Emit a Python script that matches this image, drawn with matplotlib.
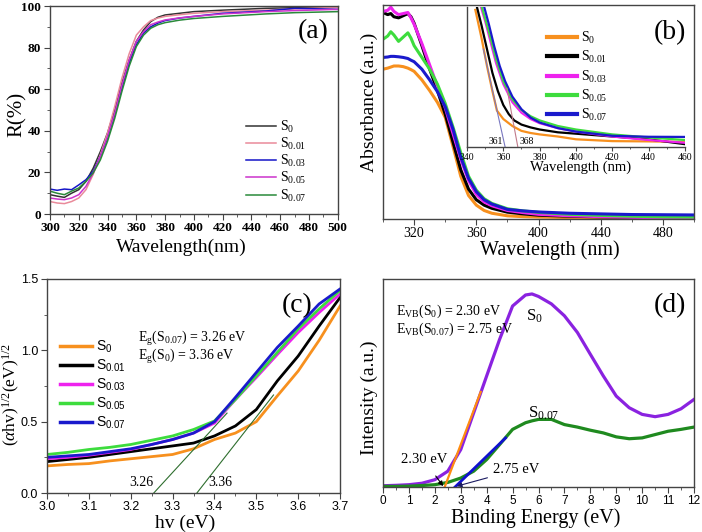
import matplotlib
matplotlib.use("Agg")
import matplotlib.pyplot as plt
from matplotlib.ticker import MultipleLocator, NullLocator, FormatStrFormatter

plt.rcParams.update({
    "font.family": "Liberation Serif",
    "mathtext.fontset": "custom",
    "mathtext.rm": "Liberation Serif",
    "mathtext.it": "Liberation Serif:italic",
    "mathtext.bf": "Liberation Serif:bold",
    "mathtext.sf": "Liberation Sans",
    "axes.linewidth": 1.0,
    "axes.edgecolor": "#444444",
    "xtick.direction": "out",
    "ytick.direction": "out",
    "xtick.major.size": 4,
    "ytick.major.size": 4,
    "xtick.minor.size": 2,
    "ytick.minor.size": 2,
    "xtick.major.pad": 2,
    "ytick.major.pad": 2.5,
    "xtick.color": "#444444",
    "ytick.color": "#444444",
    "xtick.labelcolor": "black",
    "ytick.labelcolor": "black",
})

labels = ["0", "0.01", "0.03", "0.05", "0.07"]

# ---- (a) diffuse reflectance
wl_a = [300, 305, 310, 315, 320, 325, 330, 335, 340, 345, 350, 355, 360, 365,
        370, 375, 380, 390, 400, 420, 450, 470, 500]
R_s0 = [9.3, 8.6, 8.0, 10.0, 11.7, 15.7, 22.0, 30.0, 39.0, 50.0, 63.0, 74.0,
        83.0, 88.5, 92.5, 94.6, 95.7, 96.5, 97.3, 98.0, 98.9, 99.2, 99.4]
R_s001 = [6.0, 5.3, 5.0, 6.0, 7.7, 11.7, 19.0, 28.5, 39.0, 51.7, 65.3, 77.0,
          86.0, 90.0, 93.0, 94.2, 95.0, 95.8, 96.5, 97.3, 98.0, 98.6, 99.4]
R_s003 = [12.0, 11.4, 12.0, 11.7, 14.0, 16.5, 20.5, 27.7, 36.5, 47.7, 60.5,
          72.5, 81.3, 87.0, 90.0, 91.8, 93.0, 94.2, 95.0, 96.5, 97.6, 98.9, 98.4]
R_s005 = [7.7, 7.2, 6.9, 7.7, 9.3, 13.3, 19.7, 27.7, 37.3, 48.5, 62.0, 74.0,
          83.0, 87.7, 91.0, 92.3, 93.3, 94.3, 95.0, 96.2, 97.3, 97.8, 98.4]
R_s007 = [11.0, 10.0, 9.3, 11.0, 12.5, 15.7, 19.7, 26.0, 35.0, 46.0, 59.0,
          71.0, 80.5, 86.0, 89.3, 91.0, 92.0, 93.2, 94.0, 95.0, 96.2, 96.8, 97.3]
cols_a = ["#333333", "#e98a9a", "#1515c8", "#cc33cc", "#2a8a3a"]

# ---- (b) absorbance, main
wl_b = [300, 303, 305, 307, 310, 313, 316, 318, 320, 325, 330, 335, 340, 345,
        350, 355, 360, 365, 370, 380, 390, 400, 420, 440, 460, 480, 500]
A_s0 = [0.70, 0.705, 0.71, 0.715, 0.715, 0.712, 0.705, 0.698, 0.69, 0.65,
        0.60, 0.545, 0.475, 0.34, 0.20, 0.11, 0.065, 0.04, 0.027, 0.015,
        0.011, 0.009, 0.007, 0.006, 0.006, 0.005, 0.005]
A_s001 = [0.965, 0.955, 0.96, 0.945, 0.94, 0.95, 0.96, 0.945, 0.915, 0.81,
          0.70, 0.60, 0.49, 0.36, 0.23, 0.14, 0.09, 0.065, 0.05, 0.032,
          0.024, 0.018, 0.013, 0.01, 0.008, 0.006, 0.005]
A_s003 = [0.97, 0.975, 0.99, 0.97, 0.955, 0.96, 0.965, 0.94, 0.91, 0.82,
          0.72, 0.62, 0.52, 0.40, 0.28, 0.18, 0.115, 0.08, 0.062, 0.04,
          0.03, 0.022, 0.015, 0.011, 0.008, 0.006, 0.004]
A_s005 = [0.84, 0.855, 0.875, 0.86, 0.83, 0.85, 0.87, 0.845, 0.81, 0.755,
          0.70, 0.63, 0.54, 0.43, 0.31, 0.20, 0.135, 0.095, 0.073, 0.048,
          0.038, 0.031, 0.022, 0.017, 0.013, 0.01, 0.009]
A_s007 = [0.755, 0.757, 0.76, 0.76, 0.758, 0.755, 0.75, 0.742, 0.735, 0.70,
          0.65, 0.595, 0.525, 0.42, 0.29, 0.19, 0.128, 0.09, 0.07, 0.045,
          0.038, 0.033, 0.027, 0.024, 0.021, 0.02, 0.019]
cols_b = ["#f7901e", "#000000", "#ee22ee", "#3ddc3d", "#1a1acc"]

# ---- (b) inset
wl_s0_i = [344.6, 348, 351, 354, 356.5, 360, 365, 370, 375, 380, 390, 400, 420, 440, 460]
I_s0 = [0.98, 0.78, 0.58, 0.40, 0.26, 0.20, 0.15, 0.115, 0.10, 0.09, 0.075,
        0.055, 0.042, 0.04, 0.036]
wl_s001_i = [345.5, 348, 351, 354, 357, 360, 363, 366, 370, 375, 380, 390, 400, 420, 440, 460]
I_s001 = [1.0, 0.87, 0.70, 0.53, 0.40, 0.30, 0.235, 0.19, 0.16, 0.14, 0.125,
          0.105, 0.095, 0.075, 0.055, 0.02]
wl_s003_i = [347.7, 350, 353, 356, 360, 365, 370, 375, 380, 390, 400, 420, 440, 460]
I_s003 = [1.0, 0.90, 0.75, 0.60, 0.45, 0.32, 0.245, 0.20, 0.17, 0.135, 0.11,
          0.075, 0.05, 0.03]
wl_s005_i = [348.2, 350, 353, 356, 360, 365, 370, 375, 380, 390, 400, 420, 440, 460]
I_s005 = [1.0, 0.92, 0.78, 0.63, 0.47, 0.34, 0.265, 0.22, 0.19, 0.15, 0.125,
          0.09, 0.068, 0.05]
wl_s007_i = [349.5, 352, 355, 358, 361, 365, 370, 375, 380, 390, 400, 420, 440, 460]
I_s007 = [1.0, 0.88, 0.72, 0.58, 0.47, 0.36, 0.27, 0.21, 0.175, 0.135, 0.11,
          0.08, 0.073, 0.072]
tan361_x, tan361_y = [349, 361], [0.70, 0.0]
tan368_x, tan368_y = [362, 368], [0.42, 0.0]

# ---- (c) Tauc plot
hv = [3.0, 3.05, 3.1, 3.15, 3.2, 3.25, 3.3, 3.35, 3.4, 3.45, 3.5, 3.55, 3.6, 3.65, 3.7]
T_s0 = [0.19, 0.20, 0.206, 0.225, 0.24, 0.255, 0.27, 0.31, 0.375, 0.42, 0.50,
        0.68, 0.855, 1.07, 1.31]
T_s001 = [0.22, 0.235, 0.25, 0.27, 0.29, 0.31, 0.33, 0.35, 0.40, 0.47, 0.585,
          0.785, 0.96, 1.17, 1.37]
T_s003 = [0.24, 0.25, 0.265, 0.285, 0.305, 0.34, 0.375, 0.42, 0.49, 0.655,
          0.81, 0.97, 1.125, 1.265, 1.395]
T_s005 = [0.27, 0.285, 0.305, 0.32, 0.34, 0.37, 0.40, 0.445, 0.505, 0.655,
          0.82, 0.985, 1.15, 1.29, 1.42]
T_s007 = [0.25, 0.26, 0.27, 0.29, 0.31, 0.34, 0.375, 0.42, 0.50, 0.67, 0.845,
          1.02, 1.17, 1.325, 1.43]
tan326_x, tan326_y = [3.255, 3.43], [0.0, 0.56]
tan336_x, tan336_y = [3.358, 3.541], [0.0, 0.687]

# ---- (d) VB XPS
be = [0, 0.5, 1, 1.5, 2, 2.5, 3, 3.5, 4, 4.5, 5, 5.5, 5.75, 6, 6.5, 7, 7.5,
      8, 8.5, 9, 9.5, 10, 10.5, 11, 11.5, 12]
V_s0 = [0.006, 0.008, 0.011, 0.018, 0.035, 0.076, 0.18, 0.357, 0.534, 0.71,
        0.87, 0.923, 0.928, 0.916, 0.88, 0.823, 0.743, 0.638, 0.534, 0.437,
        0.381, 0.349, 0.338, 0.349, 0.376, 0.421]
V_s007 = [0.003, 0.003, 0.004, 0.007, 0.011, 0.022, 0.043, 0.076, 0.132,
          0.204, 0.277, 0.309, 0.318, 0.325, 0.325, 0.30, 0.288, 0.273, 0.26,
          0.241, 0.232, 0.236, 0.252, 0.268, 0.277, 0.288]
tan230_x, tan230_y = [2.38, 3.77], [0.0, 0.457]
tan275_x, tan275_y = [2.78, 4.73], [0.0, 0.236]

fig = plt.figure(figsize=(7.02, 5.32), dpi=100)
ax_a = fig.add_axes([0.0712, 0.5977, 0.410, 0.391])
ax_b = fig.add_axes([0.5456, 0.5883, 0.443, 0.4023])
ax_i = fig.add_axes([0.6652, 0.7237, 0.3105, 0.263])
ax_c = fig.add_axes([0.067, 0.0733, 0.4174, 0.4023])
ax_d = fig.add_axes([0.5456, 0.0846, 0.443, 0.391])

# (a)
for ys, c, lab in zip([R_s0, R_s001, R_s003, R_s005, R_s007], cols_a, labels):
    ax_a.plot(wl_a, ys, color=c, lw=1.1, label="S$_{%s}$" % lab)
ax_a.set_xlim(300, 500)
ax_a.set_ylim(0, 100)
ax_a.xaxis.set_major_locator(MultipleLocator(20))
ax_a.xaxis.set_minor_locator(MultipleLocator(10))
ax_a.yaxis.set_major_locator(MultipleLocator(20))
ax_a.yaxis.set_minor_locator(MultipleLocator(10))
for t in ax_a.get_xticklabels() + ax_a.get_yticklabels():
    t.set_fontweight("bold")
    t.set_fontsize(9.5)
ax_a.set_xlabel("Wavelength(nm)", fontsize=14)
ax_a.set_ylabel("R(%)", fontsize=15)
ax_a.xaxis.set_label_coords(0.458, -0.12)
ax_a.yaxis.set_label_coords(-0.082, 0.48)
ax_a.legend(loc="lower left", bbox_to_anchor=(0.68, 0.05), frameon=False,
            fontsize=10, handlelength=2.2, handletextpad=0.3, labelspacing=0.08,
            borderpad=0, borderaxespad=0)

# (b) main
for ys, c, lab in zip([A_s0, A_s001, A_s003, A_s005, A_s007], cols_b, labels):
    ax_b.plot(wl_b, ys, color=c, lw=2.2)
ax_b.set_xlim(300, 500)
ax_b.set_ylim(0, 1.0)
ax_b.xaxis.set_major_locator(MultipleLocator(40))
ax_b.xaxis.set_minor_locator(MultipleLocator(20))
ax_b.yaxis.set_major_locator(NullLocator())
ax_b.tick_params(axis="x", which="major", labelsize=10, pad=1.5)
ax_b.set_xlabel("Wavelength (nm)", fontsize=14.5)
ax_b.set_ylabel("Absorbance (a.u.)", fontsize=14)
ax_b.xaxis.set_label_coords(0.535, -0.1)
ax_b.yaxis.set_label_coords(-0.015, 0.544)

# (b) inset
ax_i.set_facecolor("none")
inset = [(wl_s0_i, I_s0), (wl_s001_i, I_s001), (wl_s003_i, I_s003),
         (wl_s005_i, I_s005), (wl_s007_i, I_s007)]
for (xs, ys), c, lab in zip(inset, cols_b, labels):
    ax_i.plot(xs, ys, color=c, lw=1.6, label="S$_{%s}$" % lab)
ax_i.plot(tan361_x, tan361_y, color="#7a78c0", lw=0.8)
ax_i.plot(tan368_x, tan368_y, color="#c07a8a", lw=0.8)
ax_i.text(360, 0.01, "361", fontsize=7, ha="right", va="bottom")
ax_i.text(369, 0.01, "368", fontsize=7, ha="left", va="bottom")
ax_i.set_xlim(340, 460)
ax_i.set_ylim(0, 1.0)
ax_i.spines["top"].set_visible(False)
ax_i.spines["right"].set_visible(False)
ax_i.xaxis.set_major_locator(MultipleLocator(20))
ax_i.xaxis.set_minor_locator(MultipleLocator(10))
ax_i.yaxis.set_major_locator(NullLocator())
ax_i.tick_params(axis="x", which="major", labelsize=7, length=3, pad=1)
ax_i.tick_params(axis="x", which="minor", length=1.5)
ax_i.set_xlabel("Wavelength (nm)", fontsize=10.5)
ax_i.xaxis.set_label_coords(0.523, -0.1)
leg = ax_i.legend(loc="upper left", bbox_to_anchor=(0.365, 0.835), frameon=False,
                  fontsize=10, handlelength=2.2, handletextpad=0.3,
                  labelspacing=0.22, borderpad=0, borderaxespad=0)
for h in leg.get_lines():
    h.set_linewidth(3)

# (c)
for ys, c, lab in zip([T_s0, T_s001, T_s003, T_s005, T_s007], cols_b, labels):
    ax_c.plot(hv, ys, color=c, lw=2.0, label=r"S$_{\mathsf{%s}}$" % lab)
ax_c.plot(tan326_x, tan326_y, color="#2e6e2e", lw=0.8)
ax_c.plot(tan336_x, tan336_y, color="#2e6e2e", lw=0.8)
ax_c.text(3.254, 0.03, "3.26", fontsize=10, ha="right", va="bottom")
ax_c.text(3.385, 0.03, "3.36", fontsize=10, ha="left", va="bottom")
ax_c.text(3.217, 1.08, r"E$_{\mathrm{g}}$(S$_{0.07}$) = 3.26 eV", fontsize=10, va="center")
ax_c.text(3.217, 0.955, r"E$_{\mathrm{g}}$(S$_{0}$) = 3.36 eV", fontsize=10, va="center")
ax_c.set_xlim(3.0, 3.7)
ax_c.set_ylim(0, 1.5)
ax_c.xaxis.set_major_locator(MultipleLocator(0.1))
ax_c.xaxis.set_minor_locator(MultipleLocator(0.05))
ax_c.yaxis.set_major_locator(MultipleLocator(0.5))
ax_c.yaxis.set_minor_locator(MultipleLocator(0.25))
ax_c.xaxis.set_major_formatter(FormatStrFormatter("%.1f"))
ax_c.yaxis.set_major_formatter(FormatStrFormatter("%.1f"))
for t in ax_c.get_xticklabels() + ax_c.get_yticklabels():
    t.set_fontfamily("Liberation Sans")
    t.set_fontsize(9)
ax_c.set_xlabel("hv (eV)", fontsize=14)
ax_c.set_ylabel(r"($\alpha$hv)$^{1/2}$(eV)$^{1/2}$", fontsize=12.5)
ax_c.xaxis.set_label_coords(0.471, -0.1)
ax_c.yaxis.set_label_coords(-0.086, 0.458)
leg = ax_c.legend(loc="upper left", bbox_to_anchor=(0.044, 0.72), frameon=False,
                  prop={"family": "Liberation Sans", "size": 10},
                  handlelength=2.3, handletextpad=0.3, labelspacing=0.2,
                  borderpad=0, borderaxespad=0)
for h in leg.get_lines():
    h.set_linewidth(2.5)

# (d)
ax_d.plot(be, V_s0, color="#8a22e0", lw=2.3)
ax_d.plot(be, V_s007, color="#1f8a1f", lw=2.3)
ax_d.plot(tan230_x, tan230_y, color="#ff8c10", lw=1.6)
ax_d.plot(tan275_x, tan275_y, color="#1010d0", lw=2.0)
ax_d.text(5.52, 0.822, "S$_0$", fontsize=12, va="center")
ax_d.text(5.6, 0.356, "S$_{0.07}$", fontsize=12, va="center")
ax_d.text(0.5, 0.846, r"E$_{\mathrm{VB}}$(S$_0$) = 2.30 eV", fontsize=10, va="center")
ax_d.text(0.5, 0.76, r"E$_{\mathrm{VB}}$(S$_{0.07}$) = 2.75 eV", fontsize=10, va="center")
ax_d.annotate("2.30 eV", xy=(2.32, 0.004), xytext=(0.69, 0.13), fontsize=10.5,
              va="center", arrowprops=dict(arrowstyle="-|>", color="black",
                                           lw=0.8, mutation_scale=7,
                                           shrinkA=6, shrinkB=0))
ax_d.annotate("2.75 eV", xy=(2.85, 0.004), xytext=(4.24, 0.082), fontsize=10.5,
              va="center", arrowprops=dict(arrowstyle="-|>", color="#1a1a60",
                                           lw=0.8, mutation_scale=7,
                                           shrinkA=2, shrinkB=0))
ax_d.set_xlim(0, 12)
ax_d.set_ylim(0, 1.0)
ax_d.xaxis.set_major_locator(MultipleLocator(1))
ax_d.xaxis.set_minor_locator(MultipleLocator(0.5))
ax_d.yaxis.set_major_locator(NullLocator())
for t in ax_d.get_xticklabels():
    t.set_fontfamily("Liberation Sans")
    t.set_fontsize(8.5)
ax_d.set_xlabel("Binding Energy (eV)", fontsize=14.5)
ax_d.set_ylabel("Intensity (a.u.)", fontsize=14)
ax_d.xaxis.set_label_coords(0.492, -0.1)
ax_d.yaxis.set_label_coords(-0.015, 0.43)

# panel letters
for x, y, s in [(0.4245, 0.9408, "(a)"), (0.9316, 0.939, "(b)"),
                (0.4017, 0.4248, "(c)"), (0.9316, 0.4248, "(d)")]:
    fig.text(x, y, s, fontsize=20, va="center", ha="left")

fig.savefig("out.png", dpi=100)
